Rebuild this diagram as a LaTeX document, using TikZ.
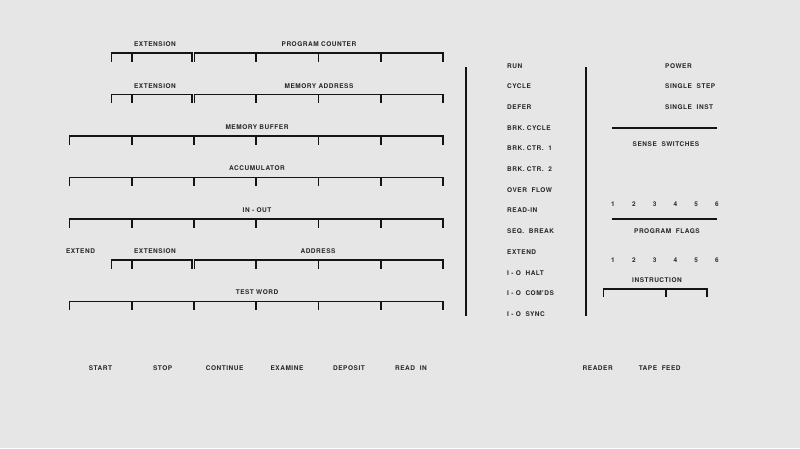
\documentclass[tikz,border=0pt]{standalone}
\usepackage{fontspec}
\newfontfamily\panelfont[LetterSpace=8]{TeX Gyre Heros}
\definecolor{panelbg}{RGB}{230,230,230}
\definecolor{ink}{RGB}{20,20,20}
\definecolor{txt}{RGB}{40,40,40}
\tikzset{
  lab/.style={inner sep=0pt, text=txt, font=\panelfont\bfseries\fontsize{6.5}{7}\selectfont},
  labw/.style={lab, anchor=west},
  barline/.style={draw=ink, line width=1.8pt, miter limit=10},
  vbar/.style={draw=ink, line width=2.6pt},
}
\newcommand\regbracket[3]{% #1 = y, #2 = left x, #3 = right x
  \draw[barline] (#2,#1+8.5) -- (#2,#1) -- (#3,#1) -- (#3,#1+8.5);}
\newcommand\regticks[2]{% #1 = y, #2 = list of x
  \foreach \tx in {#2} {\draw[barline] (\tx,#1) -- (\tx,#1+8.5);}}
\begin{document}
\begin{tikzpicture}[x=1pt,y=-1pt]
\fill[panelbg] (0,0) rectangle (800,448);
\useasboundingbox (0,0) rectangle (800,448);

% Program counter row
\node[lab] (pcext) at (155,44.5) {EXTENSION};
\node[lab] (pc) at (319,44.5) {PROGRAM COUNTER};
\regbracket{53}{111.5}{191.8}
\regticks{53}{132}
\regbracket{53}{194.5}{443}
\regticks{53}{256.25,318.5,380.75}

% Memory address row
\node[lab] (maext) at (155,86) {EXTENSION};
\node[lab] (ma) at (319,86) {MEMORY ADDRESS};
\regbracket{94.5}{111.5}{191.8}
\regticks{94.5}{132}
\regbracket{94.5}{194.5}{443}
\regticks{94.5}{256.25,318.5,380.75}

% Memory buffer
\node[lab] (mb) at (257,127.5) {MEMORY BUFFER};
\regbracket{136}{69.5}{443}
\regticks{136}{131.75,194,256.25,318.5,380.75}

% Accumulator
\node[lab] (acc) at (257,168.5) {ACCUMULATOR};
\regbracket{177.5}{69.5}{443}
\regticks{177.5}{131.75,194,256.25,318.5,380.75}

% In-out
\node[lab] (io) at (257,210) {IN - OUT};
\regbracket{219}{69.5}{443}
\regticks{219}{131.75,194,256.25,318.5,380.75}

% Address row
\node[lab] (extend) at (80.5,251) {EXTEND};
\node[lab] (adext) at (155,251) {EXTENSION};
\node[lab] (addr) at (318,251) {ADDRESS};
\regbracket{260}{111.5}{191.8}
\regticks{260}{132}
\regbracket{260}{194.5}{443}
\regticks{260}{256.25,318.5,380.75}

% Test word
\node[lab] (tw) at (257,292.5) {TEST WORD};
\regbracket{301.5}{69.5}{443}
\regticks{301.5}{131.75,194,256.25,318.5,380.75}

% Vertical bars
\draw[vbar] (466,67) -- (466,316);
\draw[vbar] (586,67) -- (586,316);

% Status lights
\node[labw] (s1) at (507,65.7) {RUN};
\node[labw] (s2) at (507,86.4) {CYCLE};
\node[labw] (s3) at (507,107.1) {DEFER};
\node[labw] (s4) at (507,127.8) {BRK. CYCLE};
\node[labw] (s5) at (507,148.5) {BRK. CTR.\ \ 1};
\node[labw] (s6) at (507,169.2) {BRK. CTR.\ \ 2};
\node[labw] (s7) at (507,189.9) {OVER\ \ FLOW};
\node[labw] (s8) at (507,210.6) {READ-IN};
\node[labw] (s9) at (507,231.3) {SEQ.\ \ BREAK};
\node[labw] (s10) at (507,252) {EXTEND};
\node[labw] (s11) at (507,272.7) {I - O\ \ HALT};
\node[labw] (s12) at (507,293.4) {I - O\ \ COM'DS};
\node[labw] (s13) at (507,314.1) {I - O\ \ SYNC};

% Right column
\node[labw] (pow) at (665,65.7) {POWER};
\node[labw] (sstep) at (665,86.4) {SINGLE\ \ STEP};
\node[labw] (sinst) at (665,107.1) {SINGLE\ \ INST};
\draw[barline] (612,128.3) -- (717,128.3);
\node[lab] (sense) at (666,144.3) {SENSE\ \ SWITCHES};
\foreach \n/\x in {1/613,2/633.8,3/654.6,4/675.4,5/696.2,6/717}{
  \node[lab] (ss\n) at (\x,204.5) {\n};
  \node[lab] (pf\n) at (\x,260.3) {\n};
}
\draw[barline] (612,219.3) -- (717,219.3);
\node[lab] (flags) at (667,231.3) {PROGRAM\ \ FLAGS};
\node[lab] (instr) at (657,280.5) {INSTRUCTION};
\regbracket{288.7}{603.5}{706.7}
\regticks{288.7}{665.7}

% Bottom switches
\node[lab] (start) at (100.5,367.8) {START};
\node[lab] (stop) at (162.7,367.8) {STOP};
\node[lab] (cont) at (224.7,367.8) {CONTINUE};
\node[lab] (exam) at (287,367.8) {EXAMINE};
\node[lab] (dep) at (349,367.8) {DEPOSIT};
\node[lab] (readin) at (411,367.8) {READ\ \ IN};
\node[lab] (reader) at (597.7,367.8) {READER};
\node[lab] (tape) at (659.7,367.8) {TAPE\ \ FEED};
\end{tikzpicture}
\end{document}
